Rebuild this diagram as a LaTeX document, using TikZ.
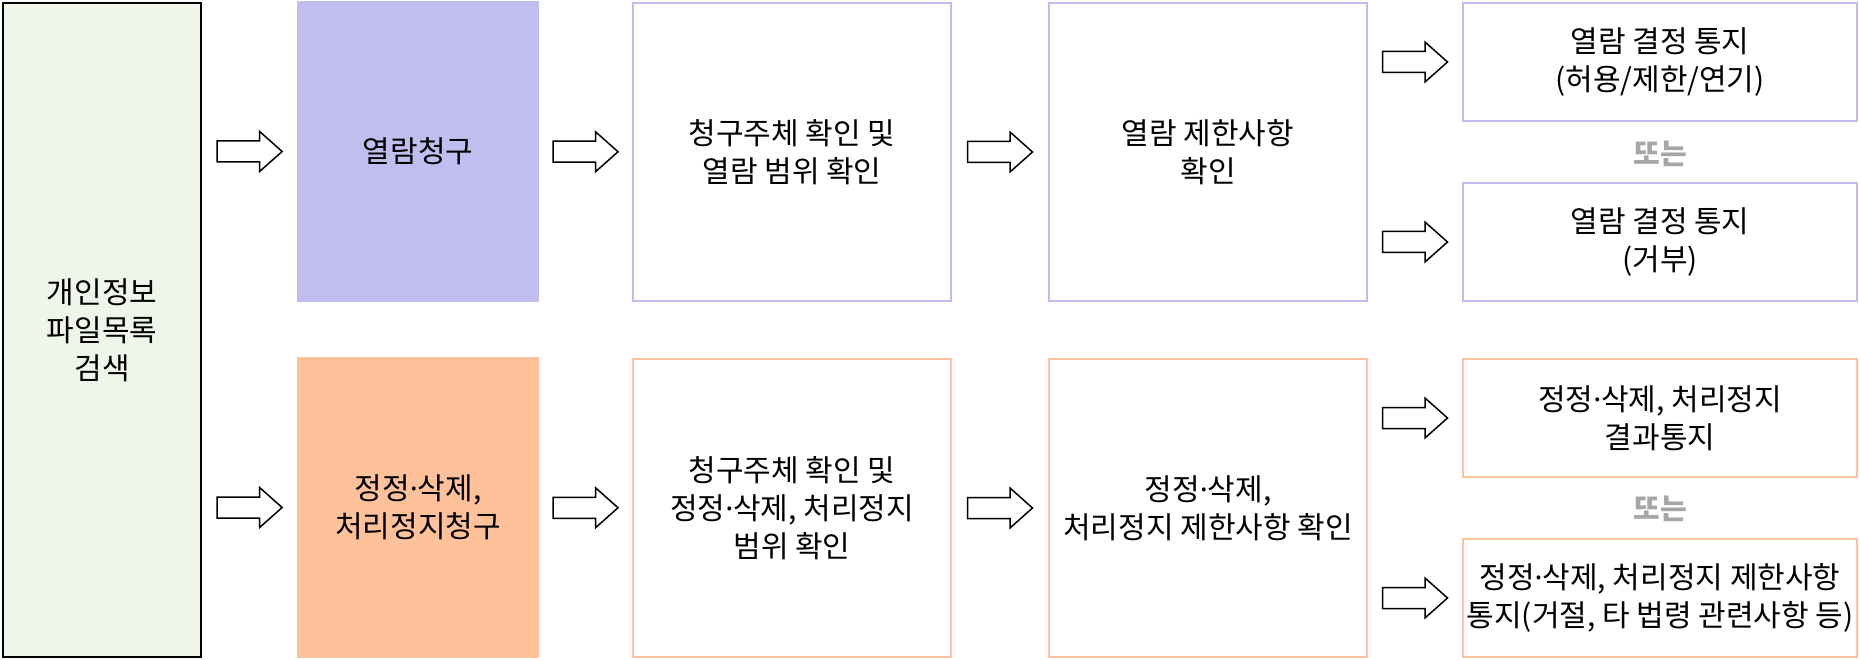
\documentclass[tikz,border=0pt]{standalone}
\usepackage{fontspec}
\setmainfont{Noto Sans CJK KR}
\newfontfamily\dotfont{Noto Sans}
\newcommand\middot{{\dotfont ·}}
\usetikzlibrary{calc}

\definecolor{searchgreen}{RGB}{239,245,232}
\definecolor{readblue}{RGB}{193,190,239}
\definecolor{fixorange}{RGB}{255,193,154}
\definecolor{orgray}{RGB}{166,166,166}

\tikzset{
	x=1pt, y=-1pt,
	box/.style={draw, line width=1.5pt, align=center, inner sep=0pt,
		font=\fontsize{30}{38}\selectfont},
	readbox/.style={box, draw=readblue},
	fixbox/.style={box, draw=fixorange},
	ortext/.style={text=orgray, font=\fontsize{29}{32}\selectfont\bfseries},
	blockarrow/.pic={
		\draw[line width=1.5pt, fill=white, line join=miter]
			(-32.5,-10.5) -- (10,-10.5) -- (10,-20) -- (32.5,0) -- (10,20)
			-- (10,10.5) -- (-32.5,10.5) -- cycle;
	}
}

\begin{document}
\begin{tikzpicture}
		\useasboundingbox (0,0) rectangle (1860,660);

		\node[box, draw=black, line width=2pt, fill=searchgreen, minimum width=198pt, minimum height=654pt] (search) at (102,330) {개인정보\\파일목록\\검색};

		\node[readbox, fill=readblue, minimum width=240pt, minimum height=299pt] (readreq) at (418,151.5) {열람청구};
		\node[readbox, minimum width=318pt, minimum height=298pt] (readchk) at (792,152) {청구주체 확인 및\\열람 범위 확인};
		\node[readbox, minimum width=318pt, minimum height=298pt] (readlim) at (1208,152) {열람 제한사항\\확인};
		\node[readbox, minimum width=394pt, minimum height=118pt] (readok) at (1660,62) {열람 결정 통지\\(허용/제한/연기)};
		\node[readbox, minimum width=394pt, minimum height=118pt] (readno) at (1660,242) {열람 결정 통지\\(거부)};
		\node[ortext] (reador) at (1660,154) {또는};

		\node[fixbox, fill=fixorange, minimum width=240pt, minimum height=299pt] (fixreq) at (418,507.5) {정정\middot 삭제,\\처리정지청구};
		\node[fixbox, minimum width=318pt, minimum height=298pt] (fixchk) at (792,508) {청구주체 확인 및\\정정\middot 삭제, 처리정지\\범위 확인};
		\node[fixbox, minimum width=318pt, minimum height=298pt] (fixlim) at (1208,508) {정정\middot 삭제,\\처리정지 제한사항 확인};
		\node[fixbox, minimum width=394pt, minimum height=118pt] (fixok) at (1660,418) {정정\middot 삭제, 처리정지\\결과통지};
		\node[fixbox, minimum width=394pt, minimum height=118pt] (fixno) at (1660,598) {정정\middot 삭제, 처리정지 제한사항\\통지(거절, 타 법령 관련사항 등)};
		\node[ortext] (fixor) at (1660,509) {또는};

		\pic at ($(search.east |- readreq.west)!0.5!(readreq.west)$) {blockarrow};
		\pic at ($(readreq.east)!0.5!(readchk.west)$) {blockarrow};
		\pic at ($(readchk.east)!0.5!(readlim.west)$) {blockarrow};
		\pic at ($(readlim.east |- readok.west)!0.5!(readok.west)$) {blockarrow};
		\pic at ($(readlim.east |- readno.west)!0.5!(readno.west)$) {blockarrow};

		\pic at ($(search.east |- fixreq.west)!0.5!(fixreq.west)$) {blockarrow};
		\pic at ($(fixreq.east)!0.5!(fixchk.west)$) {blockarrow};
		\pic at ($(fixchk.east)!0.5!(fixlim.west)$) {blockarrow};
		\pic at ($(fixlim.east |- fixok.west)!0.5!(fixok.west)$) {blockarrow};
		\pic at ($(fixlim.east |- fixno.west)!0.5!(fixno.west)$) {blockarrow};
\end{tikzpicture}
\end{document}
